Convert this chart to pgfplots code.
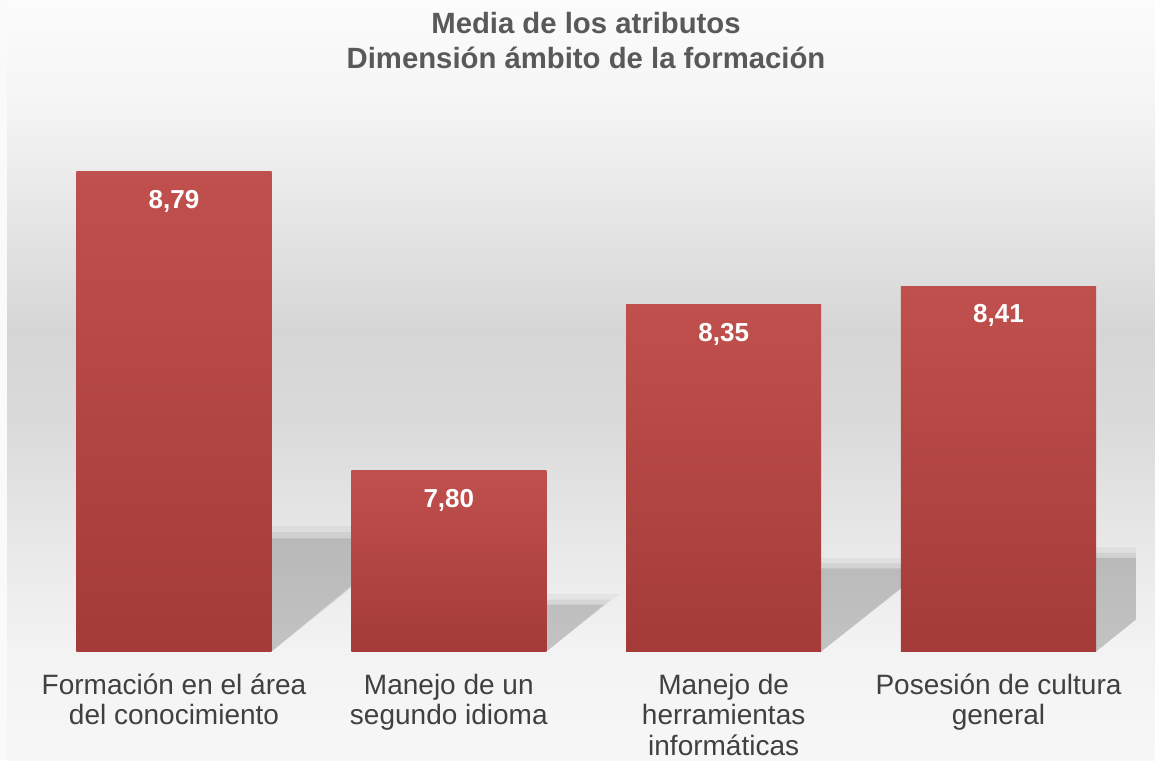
\documentclass[border=0pt]{standalone}
\usepackage{fontspec}
\setmainfont{Liberation Sans}
\usepackage{pgfplots}
\pgfplotsset{compat=1.18}
\definecolor{barTop}{HTML}{C0504D}
\definecolor{barBot}{HTML}{A43B39}
\definecolor{titleGray}{HTML}{595959}
\definecolor{labGray}{HTML}{404040}
\definecolor{bgA}{gray}{0.988}
\definecolor{bgB}{gray}{0.961}
\definecolor{bgC}{gray}{0.910}
\definecolor{bgD}{gray}{0.839}
\definecolor{bgE}{gray}{0.855}
\definecolor{bgF}{gray}{0.910}
\definecolor{bgG}{gray}{0.953}
\definecolor{bgH}{gray}{0.969}
\begin{document}
\begin{tikzpicture}
\useasboundingbox (0,0) rectangle (577.5pt,-380pt);
\fill[white!98!black] (0,0) rectangle (577.5pt,-380pt);
\begin{scope}[x=0.5pt,y=-0.5pt]
\shade[top color=bgA, bottom color=bgB] (7,0) rectangle (1155,101);
\shade[top color=bgB, bottom color=bgC] (7,100) rectangle (1155,201);
\shade[top color=bgC, bottom color=bgD] (7,200) rectangle (1155,331);
\shade[top color=bgD, bottom color=bgE] (7,330) rectangle (1155,421);
\shade[top color=bgE, bottom color=bgF] (7,420) rectangle (1155,541);
\shade[top color=bgF, bottom color=bgG] (7,540) rectangle (1155,652);
\shade[top color=bgG, bottom color=bgH] (7,651) rectangle (1155,760);
\end{scope}
\begin{axis}[
  at={(18.3pt,-325.75pt)}, anchor=south west,
  scale only axis, width=549.65pt, height=271.8pt,
  xmin=-0.5, xmax=3.5, ymin=7.2, ymax=9.0,
  axis line style={draw=none}, major tick length=0pt,
  ytick=\empty, xtick={0,1,2,3},
  xticklabels={Formación en el área\\del conocimiento, Manejo de un\\segundo idioma, Manejo de\\herramientas\\informáticas, Posesión de cultura\\general},
  xticklabel style={align=center, font=\fontsize{14}{15.2}\selectfont, text=labGray, anchor=north, inner sep=0pt, yshift=-11pt},
  clip=true,
]
% shadows (soft outer layers, then core)
\addplot[draw=none, mark=none, fill=black, fill opacity=0.04] coordinates {(0.355,7.2) (0.355,7.615) (0.93,7.615)};
\addplot[draw=none, mark=none, fill=black, fill opacity=0.06] coordinates {(0.355,7.2) (0.355,7.595) (0.89,7.595)};
\addplot[draw=none, mark=none, fill=black, fill opacity=0.11] coordinates {(0.355,7.2) (0.355,7.575) (0.855,7.575)};
\addplot[draw=none, mark=none, fill=black, fill opacity=0.04] coordinates {(1.355,7.2) (1.355,7.39) (1.62,7.39)};
\addplot[draw=none, mark=none, fill=black, fill opacity=0.06] coordinates {(1.355,7.2) (1.355,7.372) (1.59,7.372)};
\addplot[draw=none, mark=none, fill=black, fill opacity=0.11] coordinates {(1.355,7.2) (1.355,7.355) (1.565,7.355)};
\addplot[draw=none, mark=none, fill=black, fill opacity=0.04] coordinates {(2.355,7.2) (2.355,7.51) (2.79,7.51)};
\addplot[draw=none, mark=none, fill=black, fill opacity=0.06] coordinates {(2.355,7.2) (2.355,7.492) (2.76,7.492)};
\addplot[draw=none, mark=none, fill=black, fill opacity=0.11] coordinates {(2.355,7.2) (2.355,7.475) (2.735,7.475)};
\addplot[draw=none, mark=none, fill=black, fill opacity=0.04] coordinates {(3.355,7.2) (3.355,7.545) (3.83,7.545)};
\addplot[draw=none, mark=none, fill=black, fill opacity=0.06] coordinates {(3.355,7.2) (3.355,7.527) (3.80,7.527)};
\addplot[draw=none, mark=none, fill=black, fill opacity=0.11] coordinates {(3.355,7.2) (3.355,7.51) (3.78,7.51)};
% bars
\addplot[ybar, bar width=0.71, draw=none, top color=barTop, bottom color=barBot] coordinates {(0,8.79)};
\addplot[ybar, bar width=0.71, draw=none, top color=barTop, bottom color=barBot] coordinates {(1,7.80)};
\addplot[ybar, bar width=0.71, draw=none, top color=barTop, bottom color=barBot] coordinates {(2,8.35)};
\addplot[ybar, bar width=0.71, draw=none, top color=barTop, bottom color=barBot] coordinates {(3,8.41)};
% value labels
\addplot[draw=none, mark=none, point meta=y,
  nodes near coords={\pgfmathprintnumber[assume math mode=true,fixed,fixed zerofill,precision=2,use comma]{\pgfplotspointmeta}},
  nodes near coords style={anchor=base, yshift=-18.4pt, text=white, font=\fontsize{13}{15}\selectfont\bfseries, inner sep=0pt}]
  coordinates {(0,8.79) (1,7.80) (2,8.35) (3,8.41)};
\end{axis}
\begin{scope}[x=0.5pt,y=-0.5pt]
\node[anchor=base, font=\fontsize{14.65}{17}\selectfont\bfseries, text=titleGray, inner sep=0pt] at (586,33.5) {Media de los atributos};
\node[anchor=base, font=\fontsize{14.65}{17}\selectfont\bfseries, text=titleGray, inner sep=0pt] at (586,68) {Dimensión ámbito de la formación};
\end{scope}
\end{tikzpicture}
\end{document}
